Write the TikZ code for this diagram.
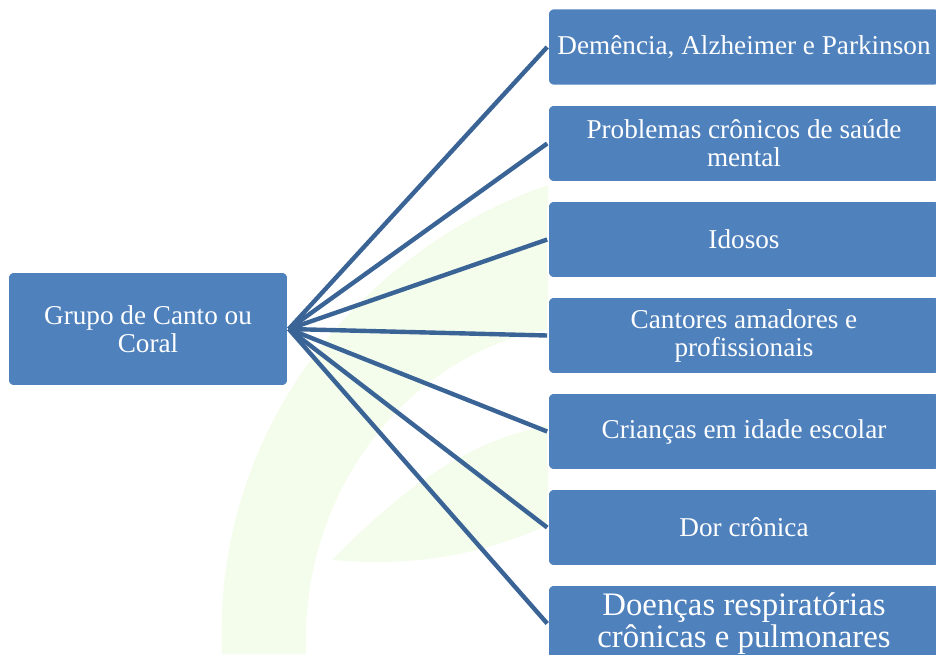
\documentclass[tikz,border=0pt]{standalone}
\usepackage{fontspec}
\setmainfont{Liberation Serif}
\usetikzlibrary{arrows.meta}
\definecolor{boxblue}{HTML}{4F81BD}
\definecolor{lineblue}{HTML}{3B6496}
\definecolor{leaf}{HTML}{F4FDEC}

\begin{document}
\begin{tikzpicture}[x = 0.5pt, y = -0.5pt]

\tikzset{
group/.style = {rectangle, rounded corners = 3pt, fill = boxblue, draw = white, line width = 0.8pt, text = white, align = center, inner sep = 0pt, font = \fontsize{13.6}{14}\selectfont},
source/.style = {group, minimum width = 140pt, minimum height = 57pt},
target/.style = {group, minimum width = 196pt, minimum height = 38.5pt},
link/.style = {draw = lineblue, line width = 2.2pt},
	}

\useasboundingbox (0, 0) rectangle (936, 654);

% Watermark
\fill [leaf] (222, 654) .. controls (212, 430) and (360, 250) .. (548, 185) -- (548, 330) .. controls (420, 350) and (300, 480) .. (306, 654) -- cycle;
\fill [leaf] (332, 560) .. controls (420, 470) and (480, 440) .. (548, 425) -- (548, 525) .. controls (470, 560) and (400, 566) .. (332, 560) -- cycle;

% Source
\node at (148, 329) [source] (coro) {Grupo de Canto ou\\Coral};

% Targets
\node at (744, 47) [target] (demencia) {Demência, Alzheimer e Parkinson};
\node at (744, 143.5) [target] (mental) {Problemas crônicos de saúde\\mental};
\node at (744, 239.5) [target] (idosos) {Idosos};
\node at (744, 335.5) [target] (cantores) {Cantores amadores e\\profissionais};
\node at (744, 431.5) [target] (criancas) {Crianças em idade escolar};
\node at (744, 527.5) [target] (dor) {Dor crônica};
\node at (744, 623.5) [target, font = \fontsize{16.4}{14.8}\selectfont] (respiratorias) {Doenças respiratórias\\crônicas e pulmonares};

% Links
\path [link] (coro.east) edge [] (demencia.west);
\path [link] (coro.east) edge [] (mental.west);
\path [link] (coro.east) edge [] (idosos.west);
\path [link] (coro.east) edge [] (cantores.west);
\path [link] (coro.east) edge [] (criancas.west);
\path [link] (coro.east) edge [] (dor.west);
\path [link] (coro.east) edge [] (respiratorias.west);

\end{tikzpicture}
\end{document}
